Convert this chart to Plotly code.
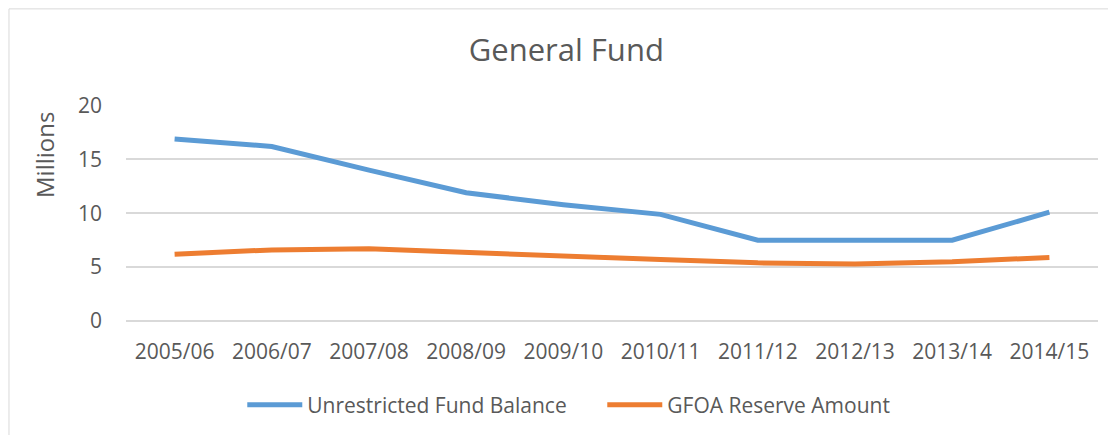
import plotly.graph_objects as go

# ── 데이터 ──────────────────────────────────────────────
years = ["2005/06", "2006/07", "2007/08", "2008/09", "2009/10",
         "2010/11", "2011/12", "2012/13", "2013/14", "2014/15"]
unrestricted = [16.9, 16.2, 14.0, 11.9, 10.8, 9.9, 7.5, 7.5, 7.5, 10.1]
gfoa_reserve = [6.2, 6.6, 6.7, 6.35, 5.95, 5.7, 5.4, 5.3, 5.5, 5.9]

TXT = "#595959"
FONT = "Open Sans"

fig = go.Figure()
fig.add_trace(go.Scatter(
    x=years, y=unrestricted, mode="lines", name="Unrestricted Fund Balance",
    line=dict(color="#5b9bd5", width=5),
))
fig.add_trace(go.Scatter(
    x=years, y=gfoa_reserve, mode="lines", name="GFOA Reserve Amount",
    line=dict(color="#ed7d31", width=5),
))

# 차트 테두리 (페이지 body 여백 8px 고려)
fig.add_shape(type="rect", xref="paper", yref="paper",
              x0=-0.1204, x1=1.0278, y0=-0.56, y1=1.445,
              line=dict(color="#d9d9d9", width=1), layer="below")

# y축 제목은 위쪽에 치우쳐 있어서 annotation 으로
fig.add_annotation(text="Millions", xref="paper", yref="paper",
                   x=-0.0844, y=0.7685, textangle=-90, showarrow=False,
                   xanchor="center", yanchor="middle",
                   font=dict(size=24, color=TXT))

fig.update_layout(
    width=1100, height=427,
    margin=dict(l=118, r=10, t=97, b=114),
    paper_bgcolor="white", plot_bgcolor="white",
    font=dict(family=FONT, color=TXT, size=18),
    title=dict(text="General Fund", x=0.453, xref="paper", xanchor="center",
               y=0.902, yanchor="middle", font=dict(size=31, color=TXT)),
    showlegend=True,
    legend=dict(orientation="h", x=0.49, xanchor="center", y=-0.389,
                yanchor="middle", font=dict(size=21, color=TXT),
                itemwidth=55, entrywidth=290),
)
fig.update_xaxes(range=[-0.5, 9.5], showgrid=False, showline=False, ticks="",
                 tickfont=dict(size=21), ticklabelstandoff=16)
fig.update_yaxes(range=[0, 20.05], dtick=5, showgrid=True, gridcolor="#d9d9d9",
                 gridwidth=1.5, zeroline=True, zerolinecolor="#d9d9d9",
                 zerolinewidth=1.5, showline=False,
                 tickfont=dict(size=21), ticklabelstandoff=23)

fig.write_html("out.html")
